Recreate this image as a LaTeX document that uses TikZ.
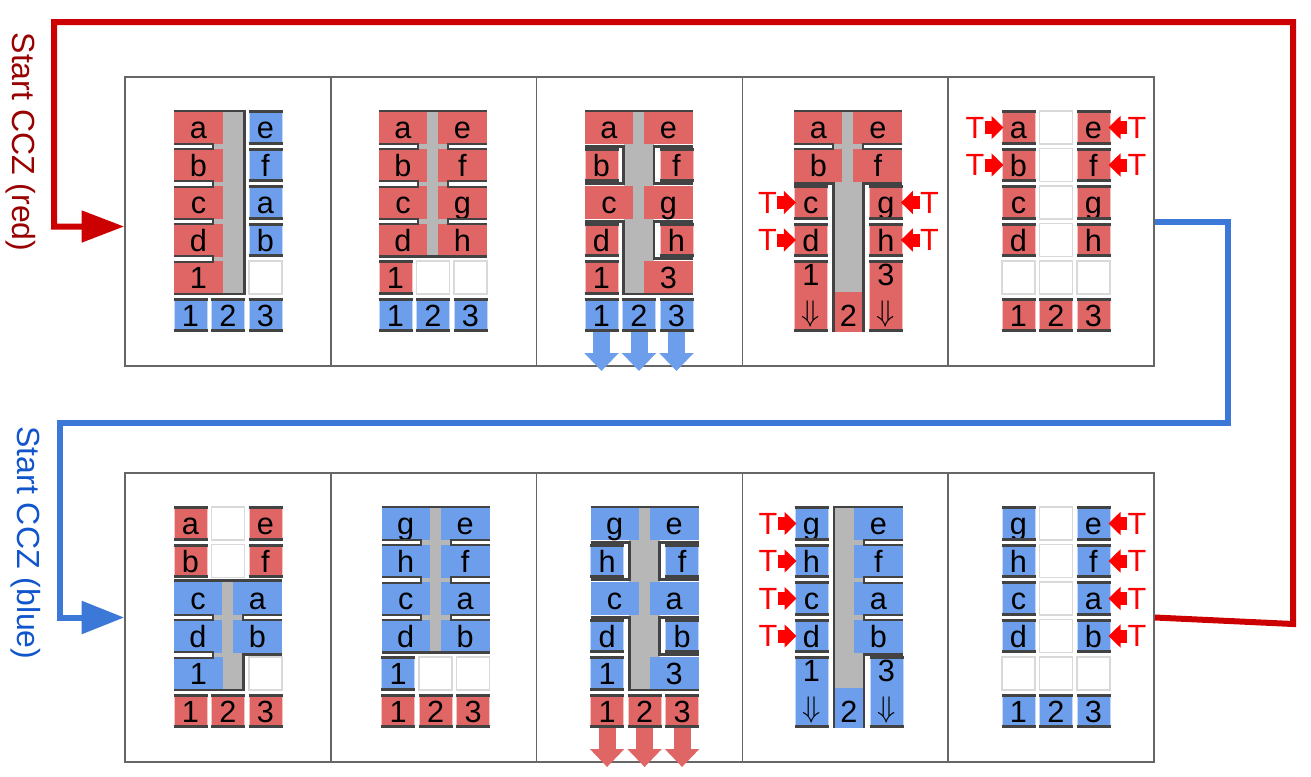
\documentclass[tikz,border=0pt]{standalone}
\usepackage{fontspec}
\setmainfont{Liberation Sans}
\usepackage{tikz}
\usetikzlibrary{arrows.meta}
\definecolor{cellred}{HTML}{E06666}
\definecolor{cellblue}{HTML}{6D9EEB}
\definecolor{busgray}{HTML}{B7B7B7}
\definecolor{rimdark}{HTML}{434343}
\definecolor{linered}{HTML}{CC0000}
\definecolor{lineblue}{HTML}{3C78D8}
\definecolor{textred}{HTML}{990000}
\definecolor{textblue}{HTML}{1155CC}
\definecolor{tred}{HTML}{FF0000}

\tikzset{
  lbl/.style={font=\fontsize{23}{27}\selectfont, text height=18.5pt, text depth=2pt, inner sep=0pt},
  qubit/.style={lbl, rectangle, minimum width=24.75pt, minimum height=24.75pt, line width=0.75pt},
  hole/.style={rectangle, draw=black!15, fill=white, line width=1.1pt, minimum width=24.75pt, minimum height=24.75pt, inner sep=0pt},
  rim/.style={draw=rimdark, line width=2.2pt},
  rimthin/.style={draw=rimdark, line width=1.5pt},
  bus/.style={fill=busgray},
  panel/.style={draw=black!60, line width=1.2pt, minimum width=154.35pt, minimum height=216.75pt, inner sep=0pt},
  tlbl/.style={text=tred, font=\fontsize{23}{27}\selectfont, inner sep=0pt},
  tarrow/.style={tred, line width=9.75pt, -{Triangle[length=9pt,width=17pt]}},
  downblue/.style={cellblue, line width=12.75pt, -{Triangle[length=13.5pt,width=25pt]}},
  downred/.style={cellred, line width=12.75pt, -{Triangle[length=13.5pt,width=25pt]}},
  redflow/.style={linered, line width=4.5pt, -{Triangle[length=32pt,width=23pt]}},
  blueflow/.style={lineblue, line width=4.5pt, -{Triangle[length=32pt,width=24pt]}},
  sidelbl/.style={font=\fontsize{24}{28}\selectfont, inner sep=0pt, rotate=-90}
}

\newcommand{\qb}[4]{%
  \node[qubit,fill=#3,draw=#3!40!white] (\pid-#1-#2) at ({65.5+37.5*#1},{50.5+37.5*#2}) {#4};
  \draw[rim] ([yshift=-1pt]\pid-#1-#2.north west) -- ([yshift=-1pt]\pid-#1-#2.north east);
  \draw[rim] ([yshift=1pt]\pid-#1-#2.south west) -- ([yshift=1pt]\pid-#1-#2.south east);
}
\newcommand{\emptyq}[2]{\node[hole] (\pid-#1-#2) at ({65.5+37.5*#1},{50.5+37.5*#2}) {};}
\newcommand{\wq}[6]{%
  \fill[#4] (#1,{34+37.5*#3}) rectangle (#2,{67+37.5*#3});
  \node[lbl] (\pid-#5) at ({(#1+#2)/2},{50.5+37.5*#3}) {#6};
}
\newcommand{\tallq}[3]{%
  \node[qubit,fill=#2,draw=#2!40!white,minimum height=52.875pt] (\pid-#1-t) at ({65.5+37.5*#1},219.25) {};
  \draw[rim] ([yshift=-1pt]\pid-#1-t.north west) -- ([yshift=-1pt]\pid-#1-t.north east);
  \draw[rim] ([yshift=1pt]\pid-#1-t.south west) -- ([yshift=1pt]\pid-#1-t.south east);
  \node[font=\fontsize{23}{27}\selectfont, inner sep=0pt] (\pid-#1-n) at ({65.5+37.5*#1},198) {#3};
  \node[font=\fontsize{23}{27}\selectfont, inner sep=0pt] (\pid-#1-d) at ({65.5+37.5*#1},237) {\scalebox{0.9}{$\Downarrow$}};
}
\newcommand{\lslit}[2]{%
  \fill[white] (49,{66.5+37.5*#1}) rectangle (#2,{72+37.5*#1});
  \draw[rimthin] (49,{66.5+37.5*#1}) -| (#2,{72+37.5*#1}) -- (49,{72+37.5*#1});
}
\newcommand{\rslit}[2]{%
  \fill[white] (#2,{66.5+37.5*#1}) rectangle (157,{72+37.5*#1});
  \draw[rimthin] (157,{66.5+37.5*#1}) -| (#2,{72+37.5*#1}) -- (157,{72+37.5*#1});
}
\newcommand{\tmarkl}[2]{%
  \node[tlbl] (\pid-T#1#2) at ({22+37.5*#1},{50.5+37.5*#2}) {T};
  \draw[tarrow] (\pid-T#1#2.east) -- ([xshift=1.5pt]\pid-#1-#2.west);
}
\newcommand{\tmarkr}[2]{%
  \node[tlbl] (\pid-T#1#2) at ({109+37.5*#1},{50.5+37.5*#2}) {T};
  \draw[tarrow] (\pid-T#1#2.west) -- ([xshift=-1.5pt]\pid-#1-#2.east);
}

\begin{document}
\begin{tikzpicture}[x=0.75pt,y=-0.75pt]
\useasboundingbox (0,0) rectangle (1311,776);
\foreach \i in {0,...,4} {
  \node[panel] (top\i) at ({227.9+205.8*\i},221.5) {};
  \node[panel] (bot\i) at ({227.9+205.8*\i},617.5) {};
}

% top row: red CCZ
\begin{scope}[shift={(125,77)}]
\def\pid{t1}
\fill[bus] (49,34) rectangle (119.5,217);
\wq{49}{98}{0}{cellred}{a}{a}
\wq{49}{98}{1}{cellred}{b}{b}
\wq{49}{98}{2}{cellred}{c}{c}
\wq{49}{98}{3}{cellred}{d}{d}
\wq{49}{98}{4}{cellred}{q1}{1}
\foreach \qr in {0,...,3} {\lslit{\qr}{88}}
\draw[rim] (49,34) -| (119.5,217) -- (49,217);
\foreach \qr/\qt in {0/e,1/f,2/a,3/b} {\qb{2}{\qr}{cellblue}{\qt}}
\emptyq{2}{4}
\foreach \qc/\qt in {0/1,1/2,2/3} {\qb{\qc}{5}{cellblue}{\qt}}
\end{scope}

\begin{scope}[shift={(330,77)}]
\def\pid{t2}
\fill[bus] (88,34) rectangle (118,179.5);
\foreach \qr/\qt/\qu in {0/a/e,1/b/f,2/c/g,3/d/h} {
  \wq{49}{97}{\qr}{cellred}{\qt}{\qt}
  \wq{108}{157}{\qr}{cellred}{\qu}{\qu}
}
\foreach \qr in {0,1,2} {\lslit{\qr}{88} \rslit{\qr}{118}}
\draw[rim] (49,34) -- (157,34);
\draw[rim] (49,179.5) -- (157,179.5);
\qb{0}{4}{cellred}{1}
\emptyq{1}{4}
\emptyq{2}{4}
\foreach \qc/\qt in {0/1,1/2,2/3} {\qb{\qc}{5}{cellblue}{\qt}}
\end{scope}

\begin{scope}[shift={(536,77)}]
\def\pid{t3}
\fill[bus] (87.5,34) rectangle (118,217);
\wq{49}{97}{0}{cellred}{a}{a}
\wq{108}{157}{0}{cellred}{e}{e}
\wq{49}{97}{2}{cellred}{c}{c}
\wq{108}{157}{2}{cellred}{g}{g}
\wq{108}{157}{4}{cellred}{q3}{3}
\draw[rim] (49,34) -- (157,34);
\draw[rim] (49,69.25) -| (87.5,106.75) -- (49,106.75);
\draw[rim] (49,144.25) -| (87.5,217) -- (157,217);
\draw[rim] (157,69.25) -| (118,106.75) -- (157,106.75);
\draw[rim] (157,144.25) -| (118,181.75) -- (157,181.75);
\qb{0}{1}{cellred}{b}
\qb{2}{1}{cellred}{f}
\qb{0}{3}{cellred}{d}
\qb{2}{3}{cellred}{h}
\qb{0}{4}{cellred}{1}
\foreach \qc/\qt in {0/1,1/2,2/3} {\qb{\qc}{5}{cellblue}{\qt}}
\foreach \qc in {0,1,2} {\draw[downblue] (\pid-\qc-5.south) -- ++(0,39);}
\end{scope}

\begin{scope}[shift={(745.4,77)}]
\def\pid{t4}
\fill[bus] (88,34) rectangle (118,215);
\fill[cellred] (88,215) rectangle (118,254.5);
\node[lbl] (\pid-two) at (103,238) {2};
\wq{49}{97}{0}{cellred}{a}{a}
\wq{108}{157}{0}{cellred}{e}{e}
\wq{49}{97}{1}{cellred}{b}{b}
\wq{108}{157}{1}{cellred}{f}{f}
\lslit{0}{88}
\rslit{0}{118}
\draw[rim] (49,34) -- (157,34);
\draw[rim] (49,106.75) -| (88,254.5);
\draw[rim] (157,106.75) -| (118,254.5);
\qb{0}{2}{cellred}{c}
\qb{0}{3}{cellred}{d}
\qb{2}{2}{cellred}{g}
\qb{2}{3}{cellred}{h}
\tallq{0}{cellred}{1}
\tallq{2}{cellred}{3}
\tmarkl{0}{2}
\tmarkl{0}{3}
\tmarkr{2}{2}
\tmarkr{2}{3}
\end{scope}

\begin{scope}[shift={(953,77)}]
\def\pid{t5}
\foreach \qr/\qt/\qu in {0/a/e,1/b/f,2/c/g,3/d/h} {
  \qb{0}{\qr}{cellred}{\qt}
  \emptyq{1}{\qr}
  \qb{2}{\qr}{cellred}{\qu}
}
\foreach \qc in {0,1,2} {\emptyq{\qc}{4}}
\foreach \qc/\qt in {0/1,1/2,2/3} {\qb{\qc}{5}{cellred}{\qt}}
\tmarkl{0}{0}
\tmarkl{0}{1}
\tmarkr{2}{0}
\tmarkr{2}{1}
\end{scope}

% bottom row: blue CCZ
\begin{scope}[shift={(125,473)}]
\def\pid{b1}
\qb{0}{0}{cellred}{a}
\emptyq{1}{0}
\qb{2}{0}{cellred}{e}
\qb{0}{1}{cellred}{b}
\emptyq{1}{1}
\qb{2}{1}{cellred}{f}
\fill[bus] (88,109) rectangle (118.5,217);
\wq{49}{97}{2}{cellblue}{c}{c}
\wq{108}{157}{2}{cellblue}{a}{a}
\wq{49}{97}{3}{cellblue}{d}{d}
\wq{108}{157}{3}{cellblue}{b}{b}
\wq{49}{98}{4}{cellblue}{q1}{1}
\lslit{2}{88}
\lslit{3}{88}
\rslit{2}{118}
\draw[rim] (49,107.5) -- (157,107.5);
\draw[rim] (157,181.75) -| (118.5,217) -- (49,217);
\emptyq{2}{4}
\foreach \qc/\qt in {0/1,1/2,2/3} {\qb{\qc}{5}{cellred}{\qt}}
\end{scope}

\begin{scope}[shift={(332.7,473)}]
\def\pid{b2}
\fill[bus] (88,34) rectangle (118,179.5);
\foreach \qr/\qt/\qu in {0/g/e,1/h/f,2/c/a,3/d/b} {
  \wq{49}{97}{\qr}{cellblue}{\qt}{\qt}
  \wq{108}{157}{\qr}{cellblue}{\qu}{\qu}
}
\foreach \qr in {0,1,2} {\lslit{\qr}{88} \rslit{\qr}{118}}
\draw[rim] (49,34) -- (157,34);
\draw[rim] (49,179.5) -- (157,179.5);
\qb{0}{4}{cellblue}{1}
\emptyq{1}{4}
\emptyq{2}{4}
\foreach \qc/\qt in {0/1,1/2,2/3} {\qb{\qc}{5}{cellred}{\qt}}
\end{scope}

\begin{scope}[shift={(541.6,473)}]
\def\pid{b3}
\fill[bus] (87.5,34) rectangle (118,217);
\wq{49}{97}{0}{cellblue}{g}{g}
\wq{108}{157}{0}{cellblue}{e}{e}
\wq{49}{97}{2}{cellblue}{c}{c}
\wq{108}{157}{2}{cellblue}{a}{a}
\wq{108}{157}{4}{cellblue}{q3}{3}
\draw[rim] (49,34) -- (157,34);
\draw[rim] (49,69.25) -| (87.5,106.75) -- (49,106.75);
\draw[rim] (49,144.25) -| (87.5,217) -- (157,217);
\draw[rim] (157,69.25) -| (118,106.75) -- (157,106.75);
\draw[rim] (157,144.25) -| (118,181.75) -- (157,181.75);
\qb{0}{1}{cellblue}{h}
\qb{2}{1}{cellblue}{f}
\qb{0}{3}{cellblue}{d}
\qb{2}{3}{cellblue}{b}
\qb{0}{4}{cellblue}{1}
\foreach \qc/\qt in {0/1,1/2,2/3} {\qb{\qc}{5}{cellred}{\qt}}
\foreach \qc in {0,1,2} {\draw[downred] (\pid-\qc-5.south) -- ++(0,39);}
\end{scope}

\begin{scope}[shift={(746,473)}]
\def\pid{b4}
\fill[bus] (88,34) rectangle (118,215);
\fill[cellblue] (88,215) rectangle (118,254.5);
\node[lbl] (\pid-two) at (103,238) {2};
\foreach \qr/\qt in {0/e,1/f,2/a,3/b} {\wq{108}{157}{\qr}{cellblue}{\qt}{\qt}}
\foreach \qr in {0,1,2} {\rslit{\qr}{118}}
\draw[rim] (88,254.5) |- (157,34);
\draw[rim] (157,181.75) -| (118,254.5);
\foreach \qr/\qt in {0/g,1/h,2/c,3/d} {\qb{0}{\qr}{cellblue}{\qt} \tmarkl{0}{\qr}}
\tallq{0}{cellblue}{1}
\tallq{2}{cellblue}{3}
\end{scope}

\begin{scope}[shift={(953,473)}]
\def\pid{b5}
\foreach \qr/\qt/\qu in {0/g/e,1/h/f,2/c/a,3/d/b} {
  \qb{0}{\qr}{cellblue}{\qt}
  \emptyq{1}{\qr}
  \qb{2}{\qr}{cellblue}{\qu}
  \tmarkr{2}{\qr}
}
\foreach \qc in {0,1,2} {\emptyq{\qc}{4}}
\foreach \qc/\qt in {0/1,1/2,2/3} {\qb{\qc}{5}{cellblue}{\qt}}
\end{scope}

\node[sidelbl, text=textred] (redlbl) at (21,142) {Start CCZ (red)};
\node[sidelbl, text=textblue] (bluelbl) at (26,543) {Start CCZ (blue)};
\draw[redflow] (bot4.east) -- (1293,624) |- (54,22) |- ([yshift=-3.75pt]top0.west);
\draw[blueflow] (top4.east) -| (1228,423) -- (60,423) |- (bot0.west);
\end{tikzpicture}
\end{document}
